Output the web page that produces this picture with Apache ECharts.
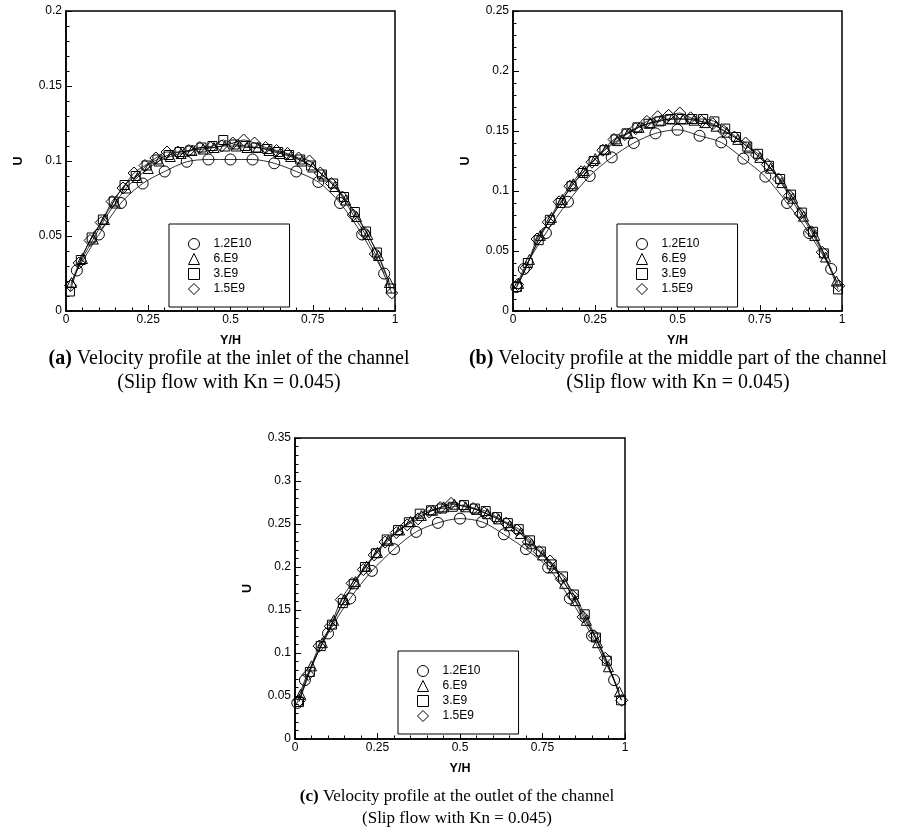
<!DOCTYPE html>
<html>
<head>
<meta charset="utf-8">
<script src="https://cdn.jsdelivr.net/npm/echarts@6/dist/echarts.min.js"></script>
<style>
html,body{margin:0;padding:0;background:#fff;}
#main{width:899px;height:832px;}
</style>
</head>
<body>
<div id="main"></div>
<script>
// series names (legend)
var seriesNames = ['1.2E10', '6.E9', '3.E9', '1.5E9'];
var xTicks = [0, 0.25, 0.5, 0.75, 1];

// Y/H positions of the fine-grid samples
var triX = [0.017,0.05,0.083,0.117,0.15,0.183,0.217,0.25,0.283,0.317,0.35,0.383,0.417,0.45,0.483,0.517,0.55,0.583,0.617,0.65,0.683,0.717,0.75,0.783,0.817,0.85,0.883,0.917,0.95,0.983];
var sqX  = [0.012,0.045,0.078,0.112,0.145,0.178,0.212,0.245,0.278,0.312,0.345,0.378,0.412,0.445,0.478,0.512,0.545,0.578,0.612,0.645,0.678,0.712,0.745,0.778,0.812,0.845,0.878,0.912,0.945,0.988];
var diaX = [0.014,0.04,0.073,0.107,0.14,0.173,0.207,0.24,0.273,0.307,0.34,0.373,0.407,0.44,0.473,0.507,0.54,0.573,0.607,0.64,0.673,0.707,0.74,0.773,0.807,0.84,0.873,0.907,0.94,0.99];

// (a) inlet
var aCircX = [0.033,0.1,0.167,0.233,0.3,0.367,0.433,0.5,0.567,0.633,0.7,0.767,0.833,0.9,0.967];
var aCircU = [0.027,0.051,0.072,0.085,0.093,0.0995,0.101,0.101,0.101,0.0985,0.093,0.086,0.072,0.051,0.025];
var aTriU = [0.019,0.035,0.048,0.061,0.072,0.082,0.089,0.095,0.100,0.103,0.105,0.107,0.108,0.109,0.110,0.110,0.109,0.109,0.107,0.105,0.103,0.100,0.096,0.090,0.083,0.074,0.063,0.051,0.037,0.019];
var aSqU  = [0.013,0.034,0.049,0.061,0.073,0.084,0.090,0.097,0.101,0.104,0.106,0.107,0.109,0.110,0.114,0.111,0.110,0.109,0.108,0.106,0.104,0.101,0.097,0.091,0.085,0.076,0.066,0.053,0.039,0.015];
var aDiaU = [0.017,0.032,0.047,0.059,0.073,0.082,0.092,0.097,0.102,0.106,0.106,0.107,0.109,0.109,0.110,0.112,0.114,0.112,0.109,0.107,0.105,0.102,0.100,0.092,0.085,0.076,0.064,0.052,0.038,0.012];

// (b) middle part
var bCircX = [0.01,0.033,0.1,0.167,0.233,0.3,0.367,0.433,0.5,0.567,0.633,0.7,0.767,0.833,0.9,0.967];
var bCircU = [0.020,0.035,0.065,0.091,0.1125,0.128,0.140,0.148,0.151,0.146,0.1405,0.127,0.112,0.090,0.065,0.035];
var bTriU = [0.023,0.043,0.063,0.078,0.093,0.106,0.117,0.127,0.135,0.142,0.148,0.153,0.157,0.159,0.160,0.160,0.159,0.157,0.154,0.149,0.143,0.136,0.128,0.119,0.107,0.094,0.079,0.063,0.045,0.025];
var bSqU  = [0.020,0.040,0.059,0.076,0.090,0.104,0.115,0.125,0.134,0.143,0.148,0.153,0.156,0.158,0.160,0.160,0.160,0.160,0.158,0.152,0.145,0.137,0.131,0.121,0.110,0.097,0.082,0.066,0.048,0.018];
var bDiaU = [0.022,0.036,0.060,0.074,0.091,0.104,0.116,0.124,0.134,0.143,0.147,0.152,0.158,0.162,0.163,0.165,0.161,0.158,0.156,0.150,0.145,0.140,0.130,0.122,0.110,0.096,0.081,0.066,0.049,0.021];

// (c) outlet
var cCircX = [0.007,0.03,0.1,0.167,0.233,0.3,0.367,0.433,0.5,0.567,0.633,0.7,0.767,0.833,0.9,0.967];
var cCircU = [0.042,0.0685,0.1227,0.1634,0.1955,0.2207,0.2408,0.2513,0.2563,0.2524,0.238,0.2207,0.1994,0.1634,0.12,0.0685];
var cTriU = [0.052,0.085,0.112,0.138,0.162,0.183,0.201,0.217,0.231,0.243,0.253,0.260,0.266,0.270,0.273,0.270,0.267,0.262,0.256,0.248,0.239,0.227,0.214,0.199,0.181,0.161,0.138,0.112,0.084,0.055];
var cSqU  = [0.043,0.078,0.108,0.133,0.158,0.180,0.200,0.216,0.232,0.243,0.252,0.262,0.266,0.268,0.270,0.272,0.268,0.265,0.258,0.251,0.244,0.231,0.218,0.203,0.189,0.168,0.145,0.118,0.091,0.045];
var cDiaU = [0.045,0.075,0.108,0.131,0.162,0.181,0.197,0.214,0.229,0.240,0.249,0.256,0.264,0.269,0.274,0.271,0.268,0.263,0.257,0.251,0.243,0.229,0.218,0.207,0.186,0.167,0.142,0.120,0.094,0.045];

var yMax = [0.2, 0.25, 0.35];
var captions = [
  '{b|(a)} Velocity profile at the inlet of the channel\n(Slip flow with Kn = 0.045)',
  '{b|(b)} Velocity profile at the middle part of the channel\n(Slip flow with Kn = 0.045)',
  '{b|(c)} Velocity profile at the outlet of the channel\n(Slip flow with Kn = 0.045)'
];

var symbols = ['circle', 'triangle', 'rect', 'diamond'];
var legendIcons = ['circle', 'triangle', 'rect', 'path://M5,0L10,5L5,10L0,5Z'];
var symSizes = [11, 10, 9, 12];
var sansFont = '"Liberation Sans", Arial, Helvetica, sans-serif';
var serifFont = '"Liberation Serif", "Times New Roman", serif';

function pairs(xs, us) {
  var out = [];
  for (var i = 0; i < xs.length; i++) out.push([xs[i], us[i]]);
  return out;
}

var panelData = [
  [pairs(aCircX, aCircU), pairs(triX, aTriU), pairs(sqX, aSqU), pairs(diaX, aDiaU)],
  [pairs(bCircX, bCircU), pairs(triX, bTriU), pairs(sqX, bSqU), pairs(diaX, bDiaU)],
  [pairs(cCircX, cCircU), pairs(triX, cTriU), pairs(sqX, cSqU), pairs(diaX, cDiaU)]
];

// layout of the three panels
var grids = [
  {left: 66, top: 11, width: 329, height: 300},
  {left: 513, top: 11, width: 329, height: 300},
  {left: 295, top: 438, width: 330, height: 301}
];
var legendPos = [[169, 224], [617, 224], [398, 651]];
// caption: centre x, top y, font size, line height
var captionPos = [[229, 347, 20, 24], [678, 347, 20, 24], [457, 786, 17, 22]];

var myChart = echarts.init(document.getElementById('main'), null, {renderer: 'canvas'});

var option = {
  animation: false,
  backgroundColor: '#fff',
  grid: [], xAxis: [], yAxis: [], legend: [], title: [], series: []
};

for (var p = 0; p < 3; p++) {
  var g = grids[p];
  option.grid.push({
    left: g.left, top: g.top, width: g.width, height: g.height,
    show: true, borderColor: '#000', borderWidth: 1.5, backgroundColor: 'transparent'
  });
  option.xAxis.push({
    type: 'value', gridIndex: p, min: 0, max: 1, interval: 0.25,
    name: 'Y/H', nameLocation: 'middle', nameGap: 23,
    nameTextStyle: {color: '#000', fontWeight: 'bold', fontSize: 12.5, fontFamily: sansFont},
    axisLine: {onZero: false, lineStyle: {color: '#000', width: 1.5}},
    axisTick: {inside: true, length: 6, lineStyle: {color: '#000', width: 1}},
    minorTick: {show: true, splitNumber: 5, length: 3.5, lineStyle: {color: '#000', width: 1}},
    splitLine: {show: false},
    axisLabel: {color: '#000', fontSize: 12, fontFamily: sansFont, margin: 3}
  });
  option.yAxis.push({
    type: 'value', gridIndex: p, min: 0, max: yMax[p], interval: 0.05,
    name: 'U', nameLocation: 'middle', nameGap: 41, nameRotate: 90,
    nameTextStyle: {color: '#000', fontWeight: 'bold', fontSize: 12.5, fontFamily: sansFont},
    axisLine: {onZero: false, lineStyle: {color: '#000', width: 1.5}},
    axisTick: {inside: true, length: 6, lineStyle: {color: '#000', width: 1}},
    minorTick: {show: true, splitNumber: 5, length: 3.5, lineStyle: {color: '#000', width: 1}},
    splitLine: {show: false},
    axisLabel: {color: '#000', fontSize: 12, fontFamily: sansFont, margin: 4}
  });
  option.legend.push({
    orient: 'vertical',
    left: legendPos[p][0], top: legendPos[p][1],
    padding: [14, 38, 12, 19],
    itemWidth: 11, itemHeight: 11, itemGap: 3,
    borderColor: '#000', borderWidth: 1, backgroundColor: '#fff',
    selectedMode: false,
    itemStyle: {color: 'rgba(0,0,0,0)', borderColor: '#000', borderWidth: 1},
    textStyle: {color: '#000', fontSize: 12, fontFamily: sansFont, padding: [0, 0, 0, 9]},
    data: seriesNames.map(function (n, i) { return {name: n, icon: legendIcons[i]}; })
  });
  var cp = captionPos[p];
  option.title.push({
    text: captions[p],
    left: cp[0], top: cp[1],
    textAlign: 'center', padding: 0,
    textStyle: {
      color: '#000', fontFamily: serifFont, fontSize: cp[2], fontWeight: 'normal', lineHeight: cp[3],
      rich: {b: {fontFamily: serifFont, fontSize: cp[2], fontWeight: 'bold', color: '#000', lineHeight: cp[3]}}
    }
  });
  for (var s = 0; s < 4; s++) {
    option.series.push({
      name: seriesNames[s], type: 'line',
      xAxisIndex: p, yAxisIndex: p,
      data: panelData[p][s],
      smooth: 0.3,
      symbol: symbols[s], symbolSize: symSizes[s],
      showAllSymbol: true,
      lineStyle: {color: '#000', width: 0.8},
      itemStyle: {color: 'rgba(0,0,0,0)', borderColor: '#000', borderWidth: 1},
      emphasis: {disabled: true},
      z: 3
    });
  }
}

myChart.setOption(option);
</script>
</body>
</html>
